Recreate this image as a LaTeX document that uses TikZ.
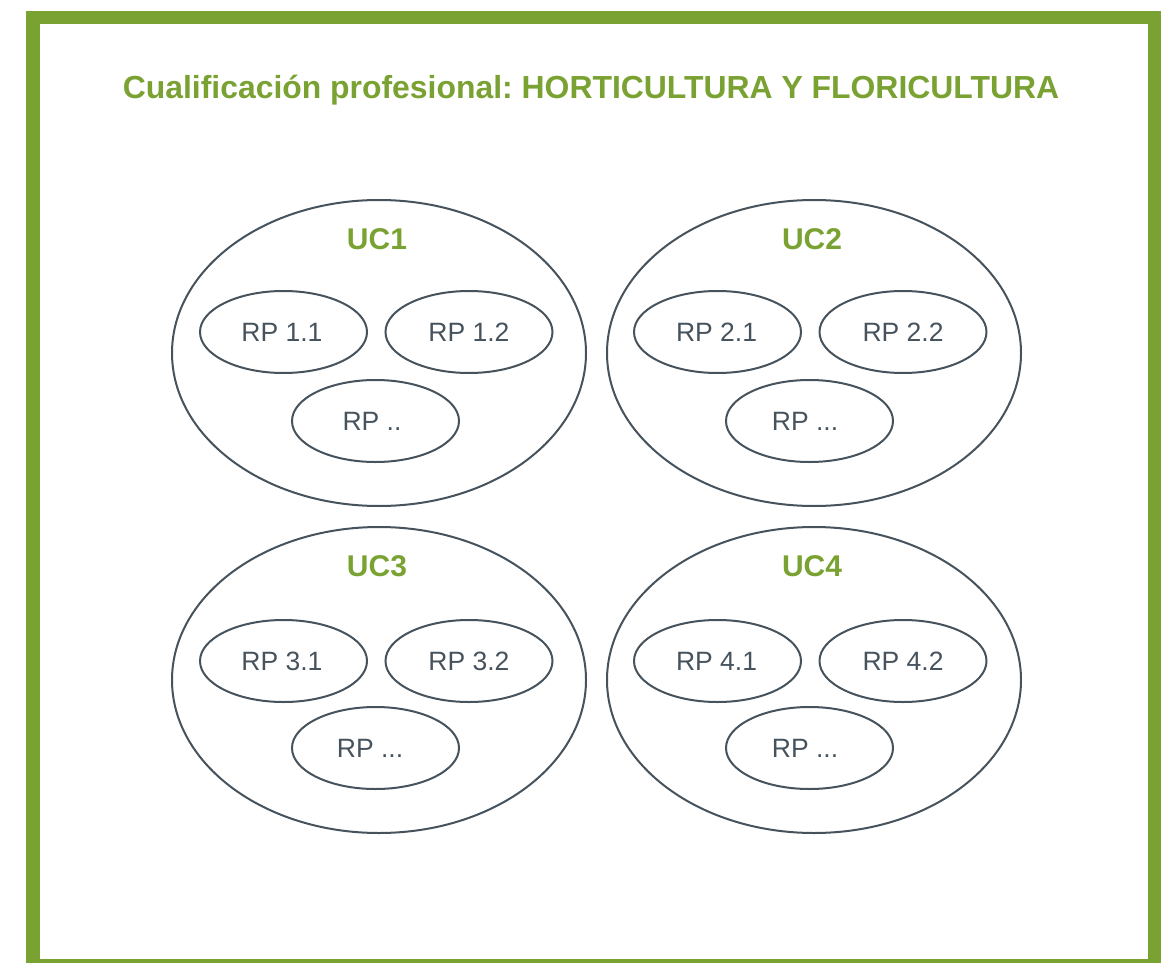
\documentclass[tikz,border=0pt]{standalone}
\usepackage{fontspec}
\setmainfont{Liberation Sans}
\definecolor{frgreen}{HTML}{79A232}
\definecolor{slate}{HTML}{46525C}
\frenchspacing
\begin{document}
\begin{tikzpicture}[x=1pt,y=-1pt,
  rp/.style={draw=slate,line width=2pt},
  rptext/.style={text=slate,inner sep=0pt,font=\fontsize{26.5}{30}\selectfont},
  uctext/.style={text=frgreen,inner sep=0pt,font=\bfseries\fontsize{30}{34}\selectfont}]
\useasboundingbox (0,0) rectangle (1170,963);
\clip (0,0) rectangle (1170,963);
\draw[frgreen,line width=13.5pt] (33,17.5) rectangle (1154.5,966);
\node[text=frgreen,inner sep=0pt,anchor=base,font=\bfseries\fontsize{31.9}{36}\selectfont] (title) at (591,98.5) {Cualificación profesional: HORTICULTURA Y FLORICULTURA};
% UC ellipses
\foreach \n/\cx/\cy in {1/379/353,2/814/353,3/379/680,4/814/680}{
  \draw[rp] (\cx,\cy) ellipse [x radius=207,y radius=153];
}
\node[uctext] (uc1) at (377,239.5) {UC1};
\node[uctext] (uc2) at (812,239.5) {UC2};
\node[uctext] (uc3) at (377,566) {UC3};
\node[uctext] (uc4) at (812,566) {UC4};
% RP ellipses
\foreach \cx/\cy in {283.5/332,469/332,375.5/421,717.5/332,903/332,809.5/421,283.5/661,469/661,375.5/748,717.5/661,903/661,809.5/748}{
  \draw[rp] (\cx,\cy) ellipse [x radius=83.5,y radius=41];
}
\node[rptext] (rp11) at (282,332.5) {RP 1.1};
\node[rptext] (rp12) at (469,332.5) {RP 1.2};
\node[rptext] (rp1x) at (372,421.5) {RP ..};
\node[rptext] (rp21) at (716.5,332.5) {RP 2.1};
\node[rptext] (rp22) at (903,332.5) {RP 2.2};
\node[rptext] (rp2x) at (805,421.5) {RP ...};
\node[rptext] (rp31) at (282,661.5) {RP 3.1};
\node[rptext] (rp32) at (469,661.5) {RP 3.2};
\node[rptext] (rp3x) at (370,748.5) {RP ...};
\node[rptext] (rp41) at (716.5,661.5) {RP 4.1};
\node[rptext] (rp42) at (903,661.5) {RP 4.2};
\node[rptext] (rp4x) at (805,748.5) {RP ...};
\end{tikzpicture}
\end{document}
